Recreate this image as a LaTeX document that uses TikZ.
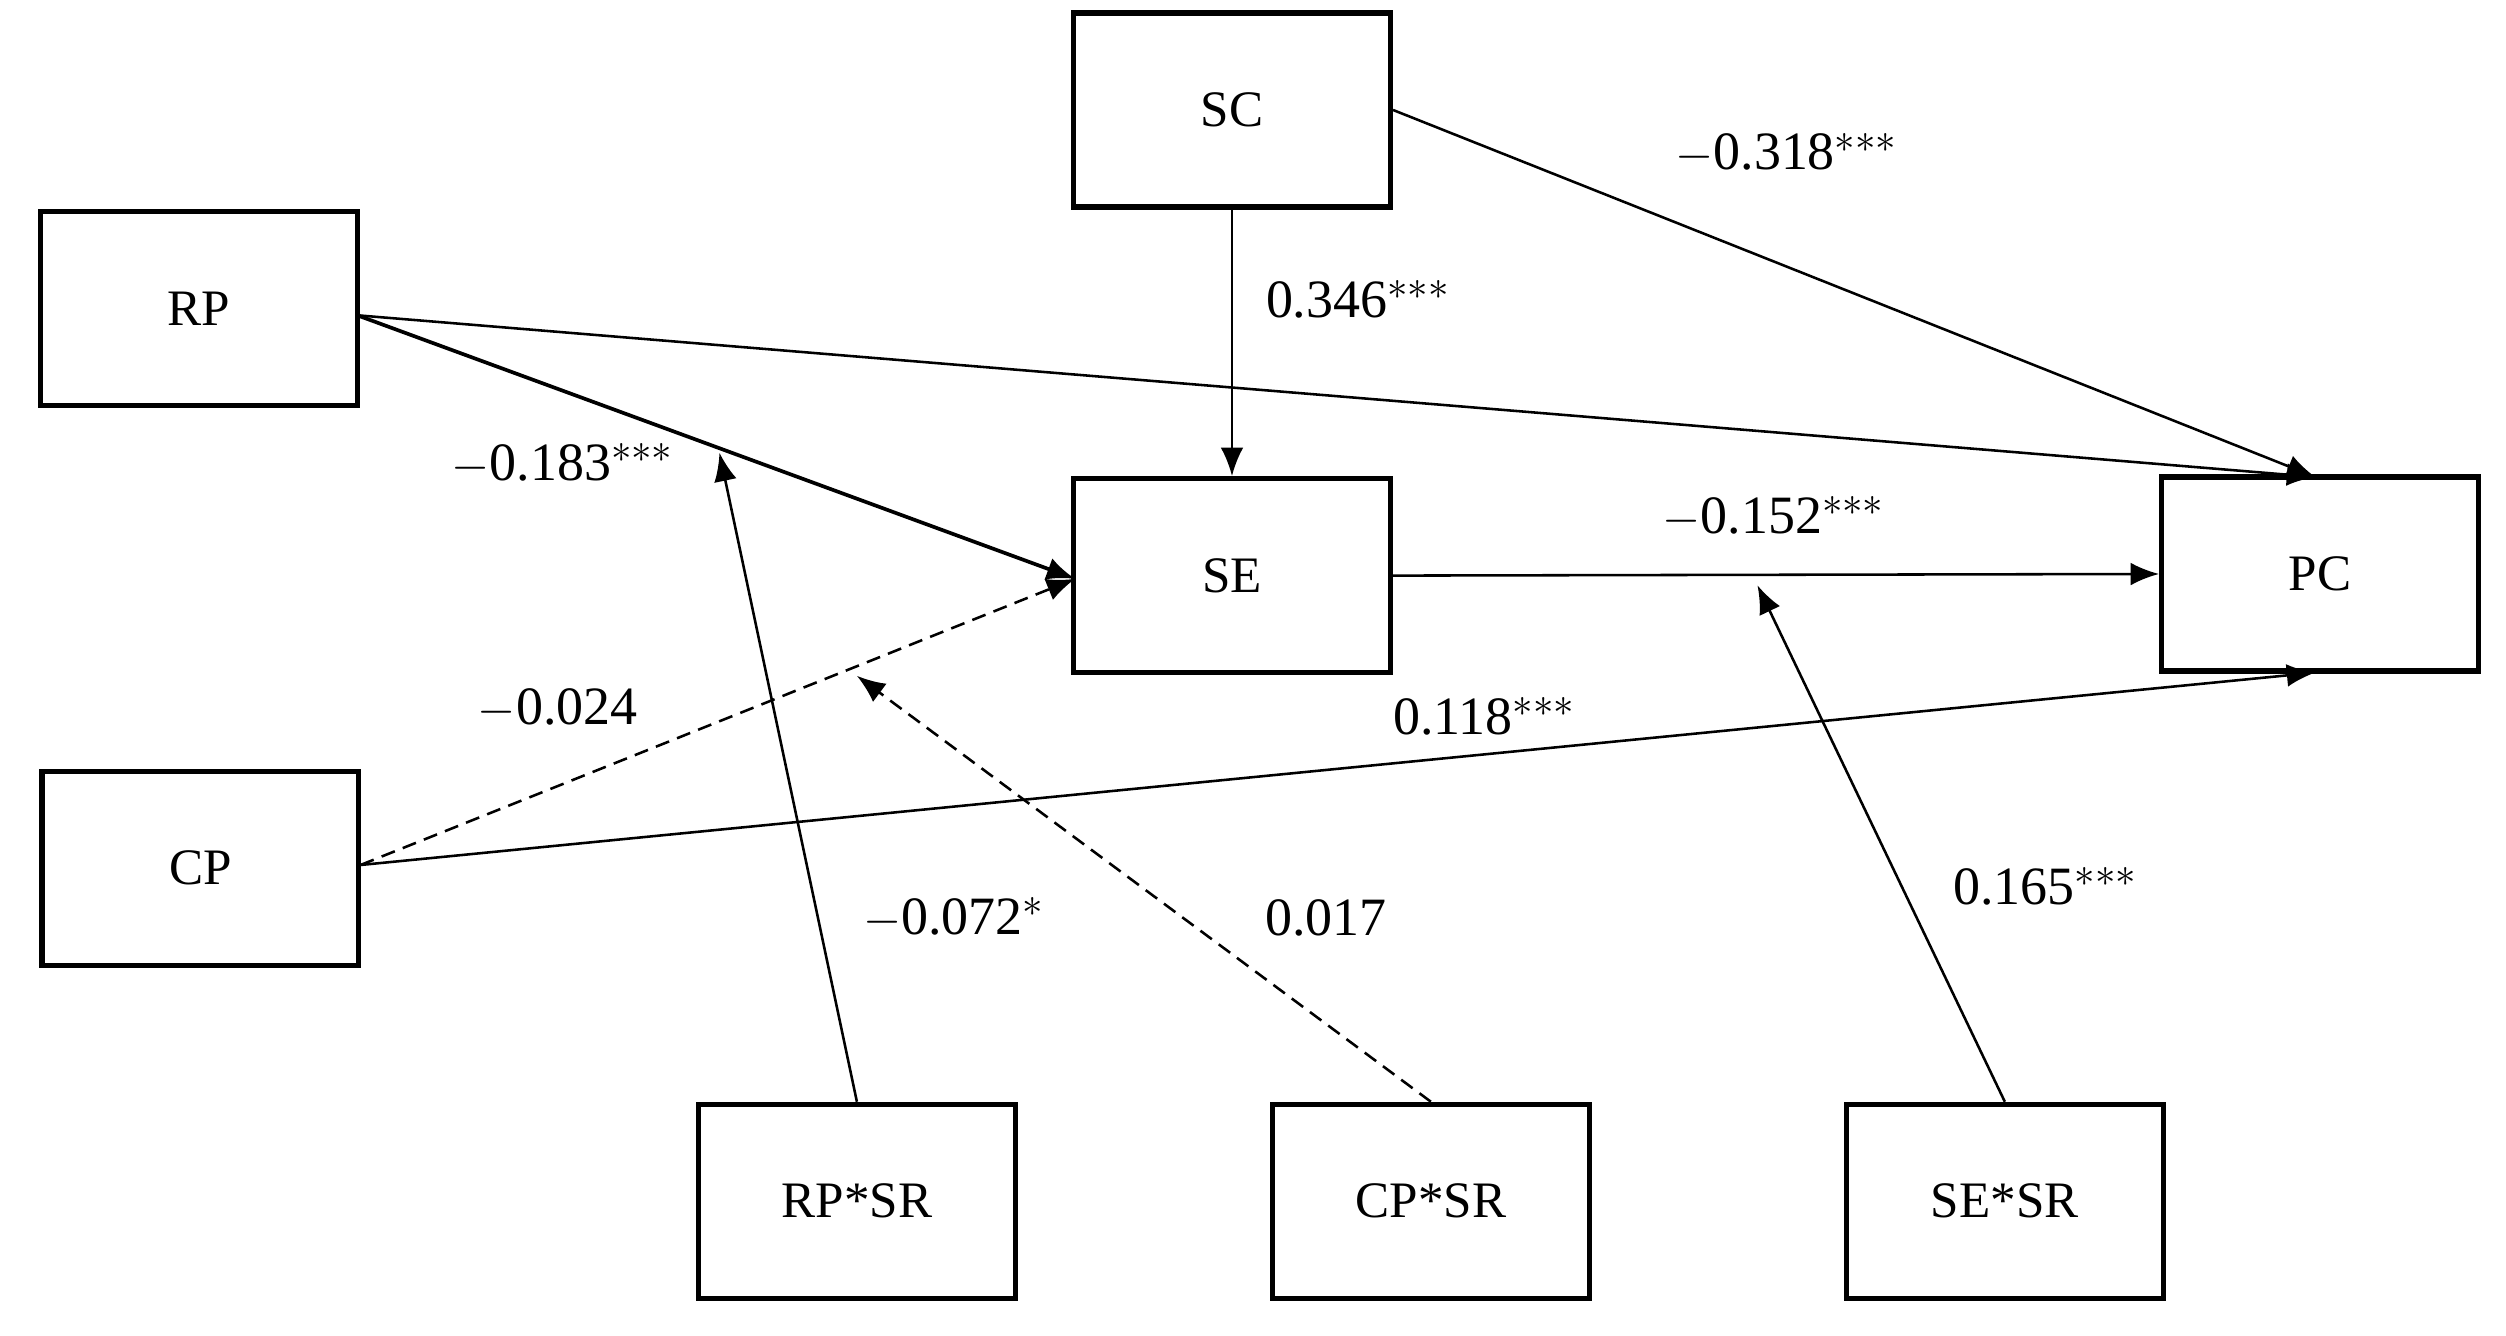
\documentclass[tikz,border=0pt]{standalone}
\usepackage{fontspec}
\setmainfont{Liberation Serif}
\usetikzlibrary{arrows.meta}
\begin{document}
\begin{tikzpicture}[x=0.02cm,y=-0.02cm,
  box/.style={draw,line width=1.8pt,minimum width=196*0.02cm,minimum height=120*0.02cm,inner sep=0pt,font=\fontsize{18}{20}\selectfont},
  lab/.style={font=\fontsize{19}{21}\selectfont,inner sep=0pt},
  ar/.style={line width=0.9pt,-{Latex[length=10pt,width=8pt]}},
  dar/.style={ar,dash pattern=on 5pt off 3pt}]
\useasboundingbox (0,0) rectangle (1550,826);
\node[box] (SC) at (762,68) {SC};
\node[box] (RP) at (123,191) {RP};
\node[box] (SE) at (762,356) {SE};
\node[box] (PC) at (1435,355) {PC};
\node[box] (CP) at (124,537) {CP};
\node[box] (RPSR) at (530,743) {RP*SR};
\node[box] (CPSR) at (885,743) {CP*SR};
\node[box] (SESR) at (1240,743) {SE*SR};
\coordinate (pct) at (1432,295);
\coordinate (pcb) at (1432,416);
\coordinate (m1) at (445,280);
\coordinate (m2) at (530,418);
\coordinate (m3) at (1087,362);
\coordinate (rpo) at (221,195);
\coordinate (cpo) at (223,535);
\coordinate (sei) at (665,358);
\draw[ar] (SC.south) -- (SE.north);
\draw[ar] (SC.east) -- (pct);
\draw[ar] (rpo) -- (pct);
\draw[ar,line width=1.3pt] (rpo) -- (sei);
\draw[dar] (cpo) -- (sei);
\draw[ar] (cpo) -- (pcb);
\draw[ar] (SE.east) -- (PC.west);
\draw[ar] (RPSR.north) -- (m1);
\draw[dar] (CPSR.north) -- (m2);
\draw[ar] (SESR.north) -- (m3);
\node[lab] (l1) at (840,185) {0.346$^{***}$};
\node[lab] (l2) at (1105,95) {$-$0.318$^{***}$};
\node[lab] (l3) at (348,287) {$-$0.183$^{***}$};
\node[lab] (l4) at (345,438) {$-$0.024};
\node[lab] (l5) at (918,443) {0.118$^{***}$};
\node[lab] (l6) at (1097,320) {$-$0.152$^{***}$};
\node[lab] (l7) at (590,568) {$-$0.072$^{*}$};
\node[lab] (l8) at (820,568) {0.017};
\node[lab] (l9) at (1265,548) {0.165$^{***}$};
\end{tikzpicture}
\end{document}
